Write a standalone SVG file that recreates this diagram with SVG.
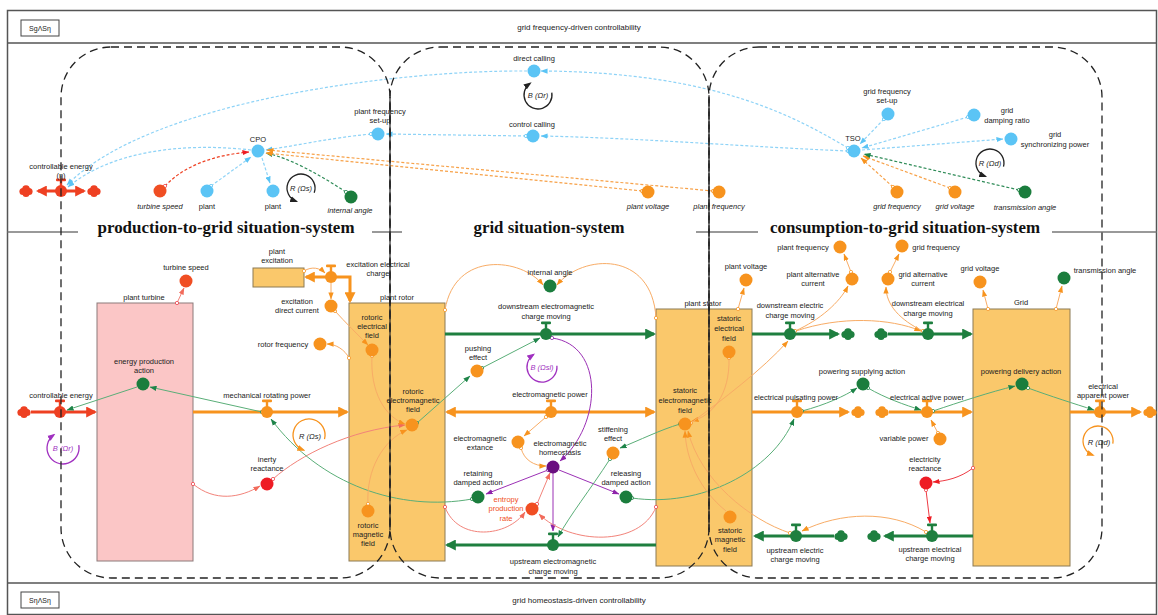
<svg xmlns="http://www.w3.org/2000/svg" xmlns:xlink="http://www.w3.org/1999/xlink" width="1158" height="615" viewBox="0 0 1158 615">
<style>
text{font-family:"Liberation Sans",Arial,sans-serif;font-size:7.5px;fill:#222;text-anchor:middle;dominant-baseline:central}
.it{font-style:italic}
.ttl{font-family:"Liberation Serif","Times New Roman",serif;font-weight:bold;font-size:16.5px;fill:#111}
.hd{font-size:8px}
.frame{fill:none;stroke:#555;stroke-width:1.5}
.sep{stroke:#777;stroke-width:1.5}
.sys{fill:none;stroke:#222;stroke-width:1.3;stroke-dasharray:8 5}
.edge{stroke:#222;stroke-width:1.2}
.stockO{fill:#FAC86B;stroke:#8c7a55;stroke-width:1}
.stockP{fill:#FBC6C6;stroke:#8c7a7a;stroke-width:1}
.fO{fill:none;stroke:#F7931E;stroke-width:3}
.fG{fill:none;stroke:#1E7F3F;stroke-width:3}
.fR{fill:none;stroke:#EE4022;stroke-width:3}
.lO{fill:none;stroke:#F8AC66;stroke-width:1}
.lG{fill:none;stroke:#5AAE78;stroke-width:1}
.lS{fill:none;stroke:#F2837A;stroke-width:1}
.lR{fill:none;stroke:#EE3B44;stroke-width:1}
.lP{fill:none;stroke:#9B30B5;stroke-width:1}
.dB{fill:none;stroke:#8ED3F7;stroke-width:1.2;stroke-dasharray:3 2}
.dO{fill:none;stroke:#F7A24A;stroke-width:1.2;stroke-dasharray:3 2}
.dG{fill:none;stroke:#2E8B57;stroke-width:1.2;stroke-dasharray:3 2}
.dR{fill:none;stroke:#EE4022;stroke-width:1.2;stroke-dasharray:3 2}
.loopK{fill:none;stroke:#222;stroke-width:1.3}
.loopO{fill:none;stroke:#F7931E;stroke-width:1.3}
.loopP{fill:none;stroke:#A030C0;stroke-width:1.3}
.cO{fill:#F7931E}.cG{fill:#1B7D3D}.cB{fill:#5BC4F5}.cR{fill:#EE1C24}.cRo{fill:#F04E23}.cP{fill:#6A0F80}
.red{fill:#F04E23}.pur{fill:#A030C0}
</style>
<defs>
<marker id="aO" viewBox="0 0 8 6" refX="7.5" refY="3" markerWidth="7" markerHeight="5.5" markerUnits="userSpaceOnUse" orient="auto"><path d="M0,0L8,3L0,6z" fill="#F7931E"/></marker>
<marker id="aG" viewBox="0 0 8 6" refX="7.5" refY="3" markerWidth="7" markerHeight="5.5" markerUnits="userSpaceOnUse" orient="auto"><path d="M0,0L8,3L0,6z" fill="#1E8449"/></marker>
<marker id="aB" viewBox="0 0 8 6" refX="7.5" refY="3" markerWidth="7" markerHeight="5.5" markerUnits="userSpaceOnUse" orient="auto"><path d="M0,0L8,3L0,6z" fill="#5BC4F5"/></marker>
<marker id="aR" viewBox="0 0 8 6" refX="7.5" refY="3" markerWidth="7" markerHeight="5.5" markerUnits="userSpaceOnUse" orient="auto"><path d="M0,0L8,3L0,6z" fill="#EE1C24"/></marker>
<marker id="aS" viewBox="0 0 8 6" refX="7.5" refY="3" markerWidth="7" markerHeight="5.5" markerUnits="userSpaceOnUse" orient="auto"><path d="M0,0L8,3L0,6z" fill="#F26B5B"/></marker>
<marker id="aP" viewBox="0 0 8 6" refX="7.5" refY="3" markerWidth="7" markerHeight="5.5" markerUnits="userSpaceOnUse" orient="auto"><path d="M0,0L8,3L0,6z" fill="#8E24AA"/></marker>
<marker id="aK" viewBox="0 0 8 6" refX="6" refY="3" markerWidth="8" markerHeight="6.5" markerUnits="userSpaceOnUse" orient="auto"><path d="M0,0L8,3L0,6z" fill="#222"/></marker>
<marker id="aLO" viewBox="0 0 8 6" refX="6" refY="3" markerWidth="8" markerHeight="6.5" markerUnits="userSpaceOnUse" orient="auto"><path d="M0,0L8,3L0,6z" fill="#F7931E"/></marker>
<marker id="aLP" viewBox="0 0 8 6" refX="6" refY="3" markerWidth="8" markerHeight="6.5" markerUnits="userSpaceOnUse" orient="auto"><path d="M0,0L8,3L0,6z" fill="#A030C0"/></marker>
<marker id="FO" viewBox="0 0 10 10" refX="8" refY="5" markerWidth="11" markerHeight="11" markerUnits="userSpaceOnUse" orient="auto-start-reverse"><path d="M0,0L10,5L0,10z" fill="#F7931E"/></marker>
<marker id="FG" viewBox="0 0 10 10" refX="8" refY="5" markerWidth="11" markerHeight="11" markerUnits="userSpaceOnUse" orient="auto-start-reverse"><path d="M0,0L10,5L0,10z" fill="#1E7F3F"/></marker>
<marker id="FR" viewBox="0 0 10 10" refX="8" refY="5" markerWidth="11" markerHeight="11" markerUnits="userSpaceOnUse" orient="auto-start-reverse"><path d="M0,0L10,5L0,10z" fill="#EE4022"/></marker>
<marker id="oO" viewBox="0 0 6 6" refX="3" refY="3" markerWidth="4.5" markerHeight="4.5" markerUnits="userSpaceOnUse"><circle cx="3" cy="3" r="2.2" fill="#fff" stroke="#F7931E" stroke-width="1"/></marker>
<marker id="oG" viewBox="0 0 6 6" refX="3" refY="3" markerWidth="4.5" markerHeight="4.5" markerUnits="userSpaceOnUse"><circle cx="3" cy="3" r="2.2" fill="#fff" stroke="#1E8449" stroke-width="1"/></marker>
<marker id="oB" viewBox="0 0 6 6" refX="3" refY="3" markerWidth="4.5" markerHeight="4.5" markerUnits="userSpaceOnUse"><circle cx="3" cy="3" r="2.2" fill="#fff" stroke="#5BC4F5" stroke-width="1"/></marker>
<marker id="oR" viewBox="0 0 6 6" refX="3" refY="3" markerWidth="4.5" markerHeight="4.5" markerUnits="userSpaceOnUse"><circle cx="3" cy="3" r="2.2" fill="#fff" stroke="#EE3B44" stroke-width="1"/></marker>
<marker id="oP" viewBox="0 0 6 6" refX="3" refY="3" markerWidth="4.5" markerHeight="4.5" markerUnits="userSpaceOnUse"><circle cx="3" cy="3" r="2.2" fill="#fff" stroke="#8E24AA" stroke-width="1"/></marker>
<g id="valve"><circle r="6" fill="currentColor"/><rect x="-1.2" y="-11" width="2.4" height="6" fill="currentColor"/><rect x="-5" y="-12.5" width="10" height="2.8" rx="1" fill="currentColor"/></g>
<g id="cloud" fill="currentColor"><circle cx="-3" cy="0.5" r="3.6"/><circle cx="3" cy="0.5" r="3.6"/><circle cx="0" cy="-2" r="3.8"/><circle cx="0" cy="2.5" r="3.5"/></g>
</defs>

<rect x="0" y="0" width="1158" height="615" fill="#fff"/>

<g id="frame">
<rect class="frame" x="7.5" y="10.5" width="1149" height="604"/>
<line class="frame" x1="7.5" y1="43" x2="1156.5" y2="43"/>
<line class="frame" x1="7.5" y1="583" x2="1156.5" y2="583"/>
<rect x="21" y="20" width="38" height="16" fill="#fff" stroke="#444" stroke-width="1"/>
<text x="40" y="28" style="font-size:7px">SgΛSη</text>
<text class="hd" x="579" y="27">grid frequency-driven controllability</text>
<rect x="21" y="592" width="38" height="16" fill="#fff" stroke="#444" stroke-width="1"/>
<text x="40" y="600" style="font-size:7px">SηΛSη</text>
<text class="hd" x="579" y="600">grid homeostasis-driven controllability</text>
<line class="sep" x1="7.5" y1="232" x2="78" y2="232"/>
<line class="sep" x1="372" y1="232" x2="402" y2="232"/>
<line class="sep" x1="696" y1="232" x2="758" y2="232"/>
<line class="sep" x1="1052" y1="232" x2="1156.5" y2="232"/>
<text class="ttl" x="226" y="227" textLength="257" lengthAdjust="spacingAndGlyphs">production-to-grid  situation-system</text>
<text class="ttl" x="549" y="227" textLength="151" lengthAdjust="spacingAndGlyphs">grid situation-system</text>
<text class="ttl" x="905" y="227" textLength="270" lengthAdjust="spacingAndGlyphs">consumption-to-grid situation-system</text>
</g>

<g id="plant-turbine"><rect class="stockP" x="97" y="303" width="96" height="258"/><text x="144" y="297">plant turbine</text></g>
<g id="plant-rotor"><rect class="stockO" x="349" y="303" width="96" height="258"/><text x="397" y="297">plant rotor</text></g>
<g id="plant-excitation"><rect class="stockO" x="253" y="268" width="51" height="19"/><text x="277" y="251">plant</text><text x="277" y="260">excitation</text></g>
<g id="plant-stator"><rect class="stockO" x="656" y="309" width="96" height="257"/><text x="703" y="303">plant stator</text></g>
<g id="grid"><rect class="stockO" x="973" y="309" width="97" height="257"/><text x="1021" y="302">Grid</text></g>

<g id="connectors">
<path class="dB" d="M527,71 C400,70 150,100 67,185" marker-end="url(#aB)"/>
<path class="dB" d="M848,148 C800,120 720,72 541,71" marker-start="url(#oB)" marker-end="url(#aB)"/>
<path class="dB" d="M848,151 C750,147 640,138 541,136" marker-start="url(#oB)" marker-end="url(#aB)"/>
<path class="dB" d="M526,136 L386,134" marker-start="url(#oB)" marker-end="url(#aB)"/>
<path class="dB" d="M371,134 C330,138 300,145 266,150" marker-start="url(#oB)" marker-end="url(#aB)"/>
<path class="dB" d="M251,150 C180,142 110,152 68,187" marker-end="url(#aB)"/>
<path class="dR" d="M165,186 C185,165 215,155 249,152" marker-start="url(#oR)" marker-end="url(#aR)"/>
<path class="dB" d="M211,186 L251,157" marker-start="url(#oB)" marker-end="url(#aB)"/>
<path class="dB" d="M262,158 L270,183" marker-end="url(#aB)"/>
<path class="dG" d="M346,192 C320,175 290,158 266,153" marker-start="url(#oG)" marker-end="url(#aG)"/>
<path class="dO" d="M642,191 L266,153" marker-start="url(#oO)" marker-end="url(#aO)"/>
<path class="dO" d="M713,191 L267,150" marker-start="url(#oO)" marker-end="url(#aO)"/>
<path class="dB" d="M884,119 L860,144" marker-start="url(#oB)" marker-end="url(#aB)"/>
<path class="dB" d="M968,117 L862,148" marker-start="url(#oB)" marker-end="url(#aB)"/>
<path class="dB" d="M862,150 L1003,139" marker-end="url(#aB)"/>
<path class="dO" d="M893,187 L861,158" marker-start="url(#oO)" marker-end="url(#aO)"/>
<path class="dO" d="M950,188 L863,156" marker-start="url(#oO)" marker-end="url(#aO)"/>
<path class="dG" d="M1019,190 L864,154" marker-start="url(#oG)" marker-end="url(#aG)"/>

<path class="fR" d="M38,191 L84,191" marker-start="url(#FR)" marker-end="url(#FR)"/>
<path class="fR" d="M31,412 L95,412" marker-end="url(#FR)"/>
<path class="fO" d="M193,412 L347,412" marker-end="url(#FO)"/>
<path class="fO" d="M306,277 L350,277 L350,301" marker-start="url(#FO)" marker-end="url(#FO)"/>
<path class="fG" d="M445,334 L654,334" marker-end="url(#FG)"/>
<path class="fO" d="M447,412 L654,412" marker-start="url(#FO)" marker-end="url(#FO)"/>
<path class="fG" d="M656,545 L447,545" marker-end="url(#FG)"/>
<path class="fG" d="M752,334 L838,334" marker-end="url(#FG)"/>
<path class="fG" d="M888,334 L971,334" marker-end="url(#FG)"/>
<path class="fO" d="M752,412 L848,412" marker-end="url(#FO)"/>
<path class="fO" d="M889,412 L971,412" marker-end="url(#FO)"/>
<path class="fO" d="M1070,412 L1140,412" marker-end="url(#FO)"/>
<path class="fG" d="M834,536 L755,536" marker-end="url(#FG)"/>
<path class="fG" d="M973,536 L885,536" marker-end="url(#FG)"/>

<path class="lS" d="M177,303 L184,288" marker-start="url(#oR)" marker-end="url(#aS)"/>
<path class="lG" d="M262,412 L150,387" marker-start="url(#oG)" marker-end="url(#aG)"/>
<path class="lG" d="M137,387 L67,410" marker-end="url(#aG)"/>
<path class="lS" d="M193,484 C215,502 240,498 260,486" marker-start="url(#oR)" marker-end="url(#aS)"/>
<path class="lS" d="M273,479 C300,455 350,430 405,425" marker-start="url(#oR)" marker-end="url(#aS)"/>
<path class="lG" d="M472,499 C400,512 320,485 271,419" marker-start="url(#oG)" marker-end="url(#aG)"/>
<path class="lO" d="M304,271 C312,266 320,268 325,273" marker-start="url(#oO)" marker-end="url(#aO)"/>
<path class="lO" d="M331,283 L331,299" marker-end="url(#aO)"/>
<path class="lO" d="M335,311 C345,322 358,335 368,345" marker-start="url(#oO)" marker-end="url(#aO)"/>
<path class="lO" d="M349,358 C345,350 336,344 327,344" marker-start="url(#oO)" marker-end="url(#aO)"/>
<path class="lO" d="M372,356 C370,392 385,417 405,424" marker-start="url(#oO)" marker-end="url(#aO)"/>
<path class="lO" d="M368,504 C366,470 383,440 407,430" marker-start="url(#oO)" marker-end="url(#aO)"/>
<path class="lO" d="M445,310 C455,250 522,258 543,285" marker-start="url(#oO)" marker-end="url(#aO)"/>
<path class="lO" d="M656,318 C652,250 582,254 557,285" marker-start="url(#oO)" marker-end="url(#aO)"/>
<path class="lG" d="M417,423 L470,376" marker-start="url(#oG)" marker-end="url(#aG)"/>
<path class="lG" d="M482,368 L540,338" marker-start="url(#oG)" marker-end="url(#aG)"/>
<path class="lP" d="M552,338 C605,345 602,425 560,461" marker-start="url(#oP)" marker-end="url(#aP)"/>
<path class="lO" d="M546,417 L524,436" marker-start="url(#oO)" marker-end="url(#aO)"/>
<path class="lO" d="M521,448 C524,460 534,466 546,466" marker-start="url(#oO)" marker-end="url(#aO)"/>
<path class="lP" d="M548,470 L486,494" marker-start="url(#oP)" marker-end="url(#aP)"/>
<path class="lP" d="M559,470 L619,494" marker-end="url(#aP)"/>
<path class="lP" d="M553,473 L553,531" marker-end="url(#aP)"/>
<path class="lS" d="M537,504 L550,473" marker-start="url(#oR)" marker-end="url(#aS)"/>
<path class="lS" d="M445,507 C458,542 508,537 525,512" marker-start="url(#oR)" marker-end="url(#aS)"/>
<path class="lS" d="M656,507 C640,547 570,545 539,514" marker-start="url(#oR)" marker-end="url(#aS)"/>
<path class="lG" d="M680,424 C660,430 640,440 620,448" marker-start="url(#oG)" marker-end="url(#aG)"/>
<path class="lG" d="M610,459 C590,490 570,515 558,537" marker-start="url(#oG)" marker-end="url(#aG)"/>
<path class="lG" d="M632,498 C700,508 772,472 794,419" marker-start="url(#oG)" marker-end="url(#aG)"/>
<path class="lO" d="M729,358 C730,395 712,416 692,421" marker-start="url(#oO)" marker-end="url(#aO)"/>
<path class="lO" d="M726,511 C700,490 686,460 685,431" marker-end="url(#aO)"/>
<path class="lO" d="M790,533 C750,520 700,480 688,431" marker-start="url(#oO)" marker-end="url(#aO)"/>
<path class="lO" d="M691,423 C722,400 762,370 788,341" marker-start="url(#oO)" marker-end="url(#aO)"/>
<path class="lO" d="M738,309 L744,288" marker-start="url(#oO)" marker-end="url(#aO)"/>
<path class="lO" d="M795,331 C820,320 840,302 848,286" marker-start="url(#oO)" marker-end="url(#aO)"/>
<path class="lO" d="M851,272 L844,254" marker-start="url(#oO)" marker-end="url(#aO)"/>
<path class="lO" d="M796,331 C840,316 890,318 921,331" marker-end="url(#aO)"/>
<path class="lO" d="M923,331 C900,320 886,305 886,287" marker-start="url(#oO)" marker-end="url(#aO)"/>
<path class="lO" d="M890,272 L899,254" marker-start="url(#oO)" marker-end="url(#aO)"/>
<path class="lO" d="M988,309 L983,290" marker-start="url(#oO)" marker-end="url(#aO)"/>
<path class="lO" d="M1056,309 L1062,286" marker-start="url(#oO)" marker-end="url(#aO)"/>
<path class="lG" d="M802,411 C825,405 845,396 857,388" marker-start="url(#oG)" marker-end="url(#aG)"/>
<path class="lG" d="M868,388 C885,398 905,405 921,410" marker-start="url(#oG)" marker-end="url(#aG)"/>
<path class="lG" d="M933,411 C960,402 990,392 1015,386" marker-start="url(#oG)" marker-end="url(#aG)"/>
<path class="lG" d="M1028,388 C1050,396 1075,404 1094,410" marker-start="url(#oG)" marker-end="url(#aG)"/>
<path class="lO" d="M938,433 L931,420" marker-start="url(#oO)" marker-end="url(#aO)"/>
<path class="lR" d="M973,468 C960,478 946,481 933,482" marker-start="url(#oR)" marker-end="url(#aR)"/>
<path class="lR" d="M926,490 L930,523" marker-start="url(#oR)" marker-end="url(#aR)"/>
<path class="lO" d="M926,532 C890,510 840,512 802,531" marker-start="url(#oO)" marker-end="url(#aO)"/>
</g>

<g id="controllable-energy-top">
<use href="#cloud" x="26" y="191" color="#EE4022"/><use href="#cloud" x="94" y="191" color="#EE4022"/>
<use href="#valve" x="61" y="191" color="#EE4022"/>
<text x="61" y="166">controllable energy</text><text x="61" y="175">(η)</text>
</g>
<g id="cpo"><circle class="cB" cx="258" cy="151" r="6.5"/><text x="258" y="139">CPO</text></g>
<g id="plant-frequency-set-up"><circle class="cB" cx="378" cy="134" r="6.5"/><text x="380" y="111">plant frequency</text><text x="380" y="120">set-up</text></g>
<g id="direct-calling"><circle class="cB" cx="534" cy="71" r="6.5"/><text x="534" y="58">direct calling</text></g>
<g id="control-calling"><circle class="cB" cx="533" cy="136" r="6.5"/><text x="532" y="124">control calling</text></g>
<g id="tso"><circle class="cB" cx="854" cy="151" r="6.5"/><text x="853" y="138">TSO</text></g>
<g id="grid-frequency-set-up"><circle class="cB" cx="888" cy="114" r="6.5"/><text x="887" y="91">grid frequency</text><text x="887" y="100">set-up</text></g>
<g id="grid-damping-ratio"><circle class="cB" cx="974" cy="115" r="6.5"/><text x="1007" y="110">grid</text><text x="1007" y="120">damping ratio</text></g>
<g id="grid-synchronizing-power"><circle class="cB" cx="1011" cy="139" r="6.5"/><text x="1055" y="134">grid</text><text x="1055" y="144">synchronizing power</text></g>
<g id="turbine-speed-top"><circle class="cRo" cx="160" cy="191" r="6.5"/><text class="it" x="160" y="206">turbine speed</text></g>
<g id="plant-a"><circle class="cB" cx="207" cy="191" r="6.5"/><text x="207" y="206">plant</text></g>
<g id="plant-b"><circle class="cB" cx="273" cy="191" r="6.5"/><text x="273" y="206">plant</text></g>
<g id="internal-angle-top"><circle class="cG" cx="351" cy="197" r="6.5"/><text class="it" x="350" y="210">internal angle</text></g>
<g id="plant-voltage-top"><circle class="cO" cx="648" cy="192" r="6.5"/><text class="it" x="648" y="206">plant voltage</text></g>
<g id="plant-frequency-top"><circle class="cO" cx="719" cy="192" r="6.5"/><text class="it" x="719" y="206">plant frequency</text></g>
<g id="grid-frequency-top"><circle class="cO" cx="897" cy="192" r="6.5"/><text class="it" x="897" y="206">grid frequency</text></g>
<g id="grid-voltage-top"><circle class="cO" cx="955" cy="192" r="6.5"/><text class="it" x="955" y="206">grid voltage</text></g>
<g id="transmission-angle-top"><circle class="cG" cx="1025" cy="192" r="6.5"/><text class="it" x="1025" y="207">transmission angle</text></g>

<g id="loop-R-Os-top"><path class="loopK" d="M314.2,192.8 A14,14 0 1 0 296.2,201.2" marker-end="url(#aK)"/><text class="it" x="301" y="188">R (Ωs)</text></g>
<g id="loop-B-Or-top"><path class="loopK" d="M551.8,92.6 A14,14 0 1 1 530,83.5" marker-end="url(#aK)"/><text class="it" x="538" y="95">B (Ωr)</text></g>
<g id="loop-R-Od-top"><path class="loopK" d="M1003.5,166.6 A14,14 0 1 0 985.2,176.2" marker-end="url(#aK)"/><text class="it" x="990" y="163">R (Ωd)</text></g>
<g id="loop-B-Or"><path class="loopP" d="M78.8,445.2 A16,16 0 1 1 53.8,434.9" marker-end="url(#aLP)"/><text class="it pur" x="63" y="448">B (Ωr)</text></g>
<g id="loop-R-Os"><path class="loopO" d="M324.5,439.1 A16,16 0 1 0 303.5,450" marker-end="url(#aLO)"/><text class="it" x="310" y="436">R (Ωs)</text></g>
<g id="loop-B-Osl"><path class="loopP" d="M556.9,365.7 A15,15 0 1 1 533.4,354.7" marker-end="url(#aLP)"/><text class="it pur" x="542" y="367">B (Ωsl)</text></g>
<g id="loop-R-Od"><path class="loopO" d="M1112.8,443.6 A15,15 0 1 0 1092.9,455.1" marker-end="url(#aLO)"/><text class="it" x="1099" y="442">R (Ωd)</text></g>

<g id="controllable-energy"><use href="#cloud" x="24" y="412" color="#EE4022"/><use href="#valve" x="60" y="412" color="#EE4022"/><text x="61" y="395">controllable energy</text></g>
<g id="turbine-speed"><circle class="cRo" cx="186" cy="281" r="6.5"/><text x="186" y="267">turbine speed</text></g>
<g id="energy-production-action"><circle class="cG" cx="143" cy="384" r="6.5"/><text x="144" y="361">energy production</text><text x="144" y="370">action</text></g>
<g id="mechanical-rotating-power"><use href="#valve" x="267" y="412" color="#F7931E"/><text x="267" y="395">mechanical rotating power</text></g>
<g id="inerty-reactance"><circle class="cR" cx="267" cy="484" r="6.5"/><text x="267" y="459">inerty</text><text x="267" y="468">reactance</text></g>
<g id="excitation-electrical-charge"><use href="#valve" x="331" y="277" color="#F7931E"/><text x="378" y="264">excitation electrical</text><text x="378" y="273">charge</text></g>
<g id="excitation-direct-current"><circle class="cO" cx="331" cy="306" r="6.5"/><text x="297" y="301">excitation</text><text x="297" y="310">direct current</text></g>
<g id="rotor-frequency"><circle class="cO" cx="320" cy="344" r="6.5"/><text x="283" y="344">rotor frequency</text></g>
<g id="rotoric-electrical-field"><circle class="cO" cx="372" cy="350" r="6.5"/><text x="372" y="317">rotoric</text><text x="372" y="326">electrical</text><text x="372" y="335">field</text></g>
<g id="rotoric-electromagnetic-field"><circle class="cO" cx="412" cy="425" r="6.5"/><text x="413" y="391">rotoric</text><text x="413" y="400">electromagnetic</text><text x="413" y="409">field</text></g>
<g id="rotoric-magnetic-field"><circle class="cO" cx="368" cy="511" r="6.5"/><text x="368" y="525">rotoric</text><text x="368" y="534">magnetic</text><text x="368" y="543">field</text></g>
<g id="internal-angle"><circle class="cG" cx="550" cy="286" r="6.5"/><text x="550" y="272">internal angle</text></g>
<g id="downstream-em-charge"><use href="#valve" x="546" y="334" color="#1E7F3F"/><text x="546" y="306">downstream electromagnetic</text><text x="546" y="316">charge moving</text></g>
<g id="pushing-effect"><circle class="cO" cx="477" cy="371" r="6.5"/><text x="478" y="348">pushing</text><text x="478" y="357">effect</text></g>
<g id="electromagnetic-power"><use href="#valve" x="551" y="412" color="#F7931E"/><text x="550" y="394">electromagnetic power</text></g>
<g id="electromagnetic-extance"><circle class="cO" cx="518" cy="442" r="6.5"/><text x="480" y="438">electromagnetic</text><text x="480" y="447">extance</text></g>
<g id="electromagnetic-homeostasis"><circle class="cP" cx="553" cy="467" r="6.5"/><text x="560" y="443">electromagnetic</text><text x="560" y="452">homeostasis</text></g>
<g id="stiffening-effect"><circle class="cO" cx="613" cy="453" r="6.5"/><text x="613" y="429">stiffening</text><text x="613" y="438">effect</text></g>
<g id="retaining-damped-action"><circle class="cG" cx="478" cy="497" r="6.5"/><text x="478" y="473">retaining</text><text x="478" y="482">damped action</text></g>
<g id="releasing-damped-action"><circle class="cG" cx="626" cy="497" r="6.5"/><text x="626" y="473">releasing</text><text x="626" y="482">damped action</text></g>
<g id="entropy-production-rate"><circle class="cRo" cx="532" cy="509" r="6.5"/><text class="red" x="506" y="499">entropy</text><text class="red" x="506" y="508">production</text><text class="red" x="506" y="518">rate</text></g>
<g id="upstream-em-charge"><use href="#valve" x="553" y="545" color="#1E7F3F"/><text x="553" y="561">upstream electromagnetic</text><text x="553" y="571">charge moving</text></g>
<g id="plant-voltage"><circle class="cO" cx="746" cy="280" r="6.5"/><text x="746" y="266">plant voltage</text></g>
<g id="statoric-electrical-field"><circle class="cO" cx="729" cy="352" r="6.5"/><text x="729" y="318">statoric</text><text x="729" y="328">electrical</text><text x="729" y="338">field</text></g>
<g id="statoric-electromagnetic-field"><circle class="cO" cx="685" cy="424" r="6.5"/><text x="685" y="390">statoric</text><text x="685" y="400">electromagnetic</text><text x="685" y="410">field</text></g>
<g id="statoric-magnetic-field"><circle class="cO" cx="730" cy="517" r="6.5"/><text x="730" y="530">statoric</text><text x="730" y="539">magnetic</text><text x="730" y="549">field</text></g>
<g id="downstream-electric-charge"><use href="#valve" x="790" y="334" color="#1E7F3F"/><use href="#cloud" x="848" y="334" color="#1E7F3F"/><text x="790" y="305">downstream electric</text><text x="790" y="315">charge moving</text></g>
<g id="downstream-electrical-charge"><use href="#cloud" x="881" y="334" color="#1E7F3F"/><use href="#valve" x="928" y="334" color="#1E7F3F"/><text x="928" y="303">downstream electrical</text><text x="928" y="313">charge moving</text></g>
<g id="plant-alternative-current"><circle class="cO" cx="852" cy="279" r="6.5"/><text x="813" y="274">plant alternative</text><text x="813" y="283">current</text></g>
<g id="plant-frequency"><circle class="cO" cx="840" cy="247" r="6.5"/><text x="803" y="247">plant frequency</text></g>
<g id="grid-alternative-current"><circle class="cO" cx="888" cy="279" r="6.5"/><text x="923" y="274">grid alternative</text><text x="923" y="283">current</text></g>
<g id="grid-frequency"><circle class="cO" cx="902" cy="246" r="6.5"/><text x="936" y="247">grid frequency</text></g>
<g id="grid-voltage"><circle class="cO" cx="980" cy="282" r="6.5"/><text x="980" y="268">grid voltage</text></g>
<g id="transmission-angle"><circle class="cG" cx="1064" cy="278" r="6.5"/><text x="1105" y="270">transmission angle</text></g>
<g id="electrical-pulsating-power"><use href="#valve" x="797" y="412" color="#F7931E"/><use href="#cloud" x="858" y="412" color="#F7931E"/><text x="796" y="397">electrical pulsating power</text></g>
<g id="electrical-active-power"><use href="#cloud" x="882" y="412" color="#F7931E"/><use href="#valve" x="927" y="412" color="#F7931E"/><text x="927" y="397">electrical active power</text></g>
<g id="electrical-apparent-power"><use href="#valve" x="1100" y="412" color="#F7931E"/><use href="#cloud" x="1150" y="412" color="#F7931E"/><text x="1103" y="386">electrical</text><text x="1103" y="395">apparent power</text></g>
<g id="powering-supplying-action"><circle class="cG" cx="863" cy="384" r="6.5"/><text x="862" y="371">powering supplying action</text></g>
<g id="powering-delivery-action"><circle class="cG" cx="1022" cy="384" r="6.5"/><text x="1021" y="371">powering delivery action</text></g>
<g id="variable-power"><circle class="cO" cx="940" cy="439" r="6.5"/><text x="904" y="438">variable power</text></g>
<g id="electricity-reactance"><circle class="cR" cx="926" cy="483" r="6.5"/><text x="925" y="459">electricity</text><text x="925" y="468">reactance</text></g>
<g id="upstream-electric-charge"><use href="#cloud" x="841" y="536" color="#1E7F3F"/><use href="#valve" x="796" y="536" color="#1E7F3F"/><text x="795" y="550">upstream electric</text><text x="795" y="559">charge moving</text></g>
<g id="upstream-electrical-charge"><use href="#valve" x="932" y="536" color="#1E7F3F"/><use href="#cloud" x="874" y="536" color="#1E7F3F"/><text x="930" y="549">upstream electrical</text><text x="930" y="558">charge moving</text></g>

<g id="production-to-grid-system"><rect class="sys" x="61" y="47" width="329" height="531" rx="50"/></g>
<g id="grid-system"><rect class="sys" x="390" y="47" width="319" height="531" rx="50"/></g>
<g id="consumption-to-grid-system"><rect class="sys" x="709" y="47" width="393" height="531" rx="50"/></g>
<line class="edge" x1="390" y1="97" x2="390" y2="530"/>
<line class="edge" x1="709" y1="97" x2="709" y2="530"/>
</svg>
